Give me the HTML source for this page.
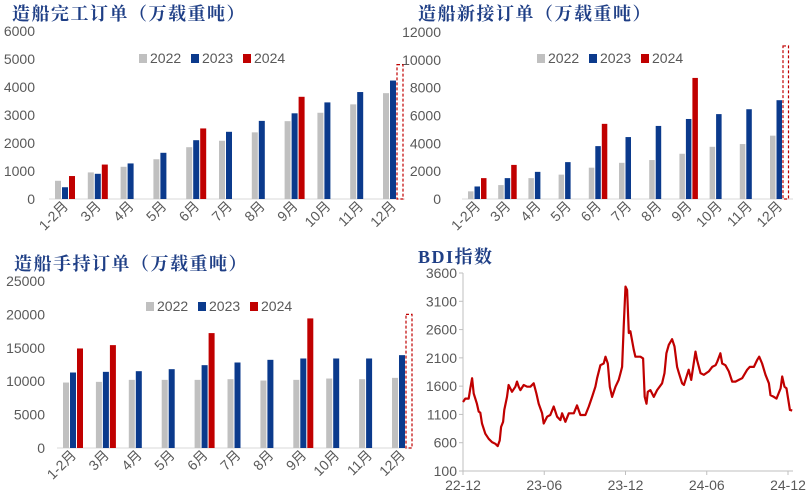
<!DOCTYPE html>
<html><head><meta charset="utf-8"><style>
body{margin:0;background:#fff;width:811px;height:500px;overflow:hidden}
svg{display:block}
text{font-family:"Liberation Sans","Noto Sans CJK SC",sans-serif;fill:#595959}
.t{font-family:"Liberation Serif","Noto Serif CJK SC",serif;font-weight:bold;fill:#1F3F86;font-size:18px;letter-spacing:1.5px}
</style></head><body>
<svg id="s" width="811" height="500">
<text class="t" x="12" y="20">造船完工订单（万载重吨）</text>
<text class="t" x="418" y="20">造船新接订单（万载重吨）</text>
<text class="t" x="14" y="270">造船手持订单（万载重吨）</text>
<text class="t" x="418" y="263">BDI指数</text>
</svg>
<script>
const months=["1-2月","3月","4月","5月","6月","7月","8月","9月","10月","11月","12月"];
const years=["2022","2023","2024"];
const c1_2022=[650,950,1150,1420,1850,2080,2380,2780,3080,3380,3780];
const c1_2023=[420,900,1270,1650,2100,2400,2790,3060,3450,3820,4230];
const c1_2024=[820,1230,null,null,2520,null,null,3650,null,null,null];
const c1_ticks=[0,1000,2000,3000,4000,5000,6000];
const c1_est=4800;
const c2_2022=[550,1000,1500,1750,2250,2600,2800,3250,3750,3950,4550];
const c2_2023=[900,1500,1950,2650,3800,4450,5250,5750,6100,6450,7100];
const c2_2024=[1500,2450,null,null,5400,null,null,8700,null,null,null];
const c2_ticks=[0,2000,4000,6000,8000,10000,12000];
const c2_est=11000;
const c3_2022=[9800,9900,10200,10200,10200,10300,10100,10200,10400,10300,10500];
const c3_2023=[11300,11400,11500,11800,12400,12800,13200,13400,13400,13400,13900];
const c3_2024=[14900,15400,null,null,17200,null,null,19400,null,null,null];
const c3_ticks=[0,5000,10000,15000,20000,25000];
const c3_est=20000;
const bdiT=[0,0.17,0.42,0.54,0.67,0.79,1.03,1.16,1.28,1.4,1.65,1.9,2.14,2.39,2.56,2.71,2.81,2.96,3.05,3.25,3.37,3.62,3.87,3.99,4.11,4.24,4.48,4.73,4.98,5.22,5.42,5.59,5.84,5.96,6.21,6.45,6.7,6.95,7.19,7.32,7.56,7.81,8.18,8.42,8.67,9.04,9.29,9.53,9.78,9.9,10.15,10.39,10.52,10.69,10.84,11.01,11.26,11.5,11.63,11.75,11.87,12.0,12.12,12.24,12.36,12.61,12.73,13.1,13.3,13.42,13.55,13.65,13.84,14.09,14.33,14.7,14.88,15.02,15.2,15.44,15.62,15.81,15.94,16.18,16.31,16.43,16.67,16.85,17.17,17.29,17.54,17.78,18.15,18.4,18.65,18.77,19.01,19.14,19.38,19.63,19.88,20.12,20.37,20.62,20.99,21.18,21.48,21.72,21.87,22.09,22.34,22.59,22.71,22.96,23.15,23.45,23.57,23.74,23.89,24.01,24.14,24.31];
const bdiV=[1320,1380,1380,1560,1740,1470,1290,1150,1130,940,760,670,610,580,540,640,880,970,1180,1410,1620,1500,1590,1680,1590,1530,1620,1590,1590,1650,1470,1290,1120,940,1060,1090,1240,1060,1000,1120,970,1120,1120,1260,1090,1090,1240,1410,1590,1740,1970,2000,2120,2000,1590,1410,1590,1710,1830,1940,2650,3360,3300,2540,2570,2240,2120,2120,2090,1410,1290,1500,1530,1410,1530,1650,1830,2180,2330,2430,2300,1940,1830,1650,1620,1710,1890,1710,2210,2060,1830,1800,1860,1940,1970,2030,2180,2000,1970,1860,1680,1680,1710,1740,1890,1940,1940,2060,2120,2000,1800,1650,1440,1410,1380,1560,1770,1590,1560,1380,1180,1170];
const bdiTicks=[100,600,1100,1600,2100,2600,3100,3600];
const bdiXLabels=["22-12","23-06","23-12","24-06","24-12"];
const bdiXPos=[0,6,12,18,24];

const NS="http://www.w3.org/2000/svg";
const svg=document.getElementById('s');
const colors=["#C0C0C0","#0B3A8C","#C00000"];
function mk(tag,at,parent){const e=document.createElementNS(NS,tag);for(const k in at)e.setAttribute(k,at[k]);(parent||svg).appendChild(e);return e;}

function barChart(id,cfg,series,ticks,est){
  const g=mk('g',{});
  
  
  const max=ticks[ticks.length-1];
  const y=v=>cfg.y0-(v/max)*(cfg.y0-cfg.yTop);
  const x=i=>cfg.x0+i*cfg.step;
  ticks.forEach(t=>{const tx=mk('text',{x:cfg.labR,y:y(t)+5,'text-anchor':'end','font-size':14},g);tx.textContent=t;
    
    });
  const ax=mk('line',{x1:cfg.axL,x2:cfg.axR,y1:cfg.y0,y2:cfg.y0,stroke:'#D9D9D9','stroke-width':1},g);
  
  
  series.forEach((s,si)=>{s.forEach((v,i)=>{if(v==null)return;
    const r=mk('rect',{x:x(i)+si*(cfg.bw+cfg.gap),y:y(v),width:cfg.bw,height:cfg.y0-y(v),fill:colors[si]},g);
    
    });});
  const ex=x(10)+2*(cfg.bw+cfg.gap);
  const d=mk('rect',{x:ex,y:y(est),width:cfg.bw,height:cfg.y0-y(est),fill:'none',stroke:'#C00000','stroke-width':1.2,'stroke-dasharray':'3,2'},g);
  
  
  months.forEach((m,i)=>{const cx=x(i)+1.5*cfg.bw+cfg.gap+4;const ty=cfg.y0+8;
    const tx=mk('text',{x:cx,y:ty,'text-anchor':'end','font-size':14,transform:`rotate(-45 ${cx} ${ty})`},g);tx.textContent=m;
    
    });
  years.forEach((yr,i)=>{const lx=cfg.legX+i*52;
    const sq=mk('rect',{x:lx,y:cfg.legY-9,width:8,height:9,fill:colors[i]},g);
    
    
    const tx=mk('text',{x:lx+11,y:cfg.legY,'font-size':14},g);tx.textContent=yr;
    
    });
}
barChart('completion',{y0:199,yTop:31,x0:55,step:32.8,bw:6,gap:1,labR:35,axL:49,axR:405,legX:139,legY:63},[c1_2022,c1_2023,c1_2024],c1_ticks,c1_est);
barChart('new-orders',{y0:199,yTop:32,x0:468,step:30.2,bw:5.5,gap:1,labR:441,axL:462,axR:793,legX:537,legY:63},[c2_2022,c2_2023,c2_2024],c2_ticks,c2_est);
barChart('backlog',{y0:448,yTop:281,x0:63,step:32.9,bw:6,gap:1,labR:45,axL:57,axR:412,legX:146,legY:311},[c3_2022,c3_2023,c3_2024],c3_ticks,c3_est);

// BDI
(function(){
  const g=mk('g',{});
  
  
  const X0=463,X1=788,Y0=471,YT=273;
  const x=t=>X0+(t/24)*(X1-X0);
  const y=v=>Y0-(v-100)/3500*(Y0-YT);
  const va=mk('line',{x1:X0,x2:X0,y1:YT,y2:Y0,stroke:'#BFBFBF'},g);
  
  
  const ha=mk('line',{x1:X0,x2:793,y1:Y0,y2:Y0,stroke:'#BFBFBF'},g);
  
  
  bdiTicks.forEach(t=>{mk('line',{x1:X0-4,x2:X0,y1:y(t),y2:y(t),stroke:'#BFBFBF'},g);
    const tx=mk('text',{x:X0-6,y:y(t)+5,'text-anchor':'end','font-size':14},g);tx.textContent=t;
    
    });
  bdiXLabels.forEach((l,i)=>{const px=x(bdiXPos[i]);mk('line',{x1:px,x2:px,y1:Y0,y2:Y0+4,stroke:'#BFBFBF'},g);
    const tx=mk('text',{x:px,y:Y0+19,'text-anchor':'middle','font-size':14},g);tx.textContent=l;
    
    });
  const n=Math.min(bdiT.length,bdiV.length);
  let d='';for(let i=0;i<n;i++)d+=(i?'L':'M')+x(bdiT[i]).toFixed(1)+','+y(bdiV[i]).toFixed(1);
  const p=mk('path',{d:d,fill:'none',stroke:'#C00000','stroke-width':2.2,'stroke-linejoin':'round'},g);
  
  
})();
</script>
</body></html>
